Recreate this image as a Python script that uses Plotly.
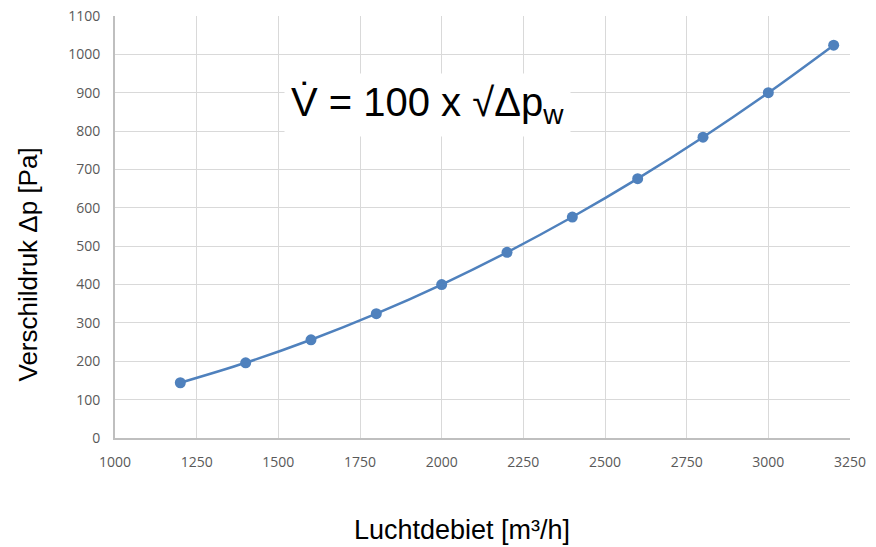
import plotly.graph_objects as go

# data
debiet = [1200, 1400, 1600, 1800, 2000, 2200, 2400, 2600, 2800, 3000, 3200]
drukval = [144, 196, 256, 324, 400, 484, 576, 676, 784, 900, 1024]
formule = "V\u0307 = 100 x \u221a\u0394p<sub>w</sub>"
x_titel = "Luchtdebiet [m³/h]"
y_titel = "Verschildruk Δp [Pa]"

lijnkleur = "#4f81bd"
gridkleur = "#d9d9d9"
tekstfont = "Liberation Sans, Arial"
tickfont = dict(family="Open Sans, Segoe UI", size=14, color="#595959")

fig = go.Figure()
fig.add_trace(go.Scatter(
    x=debiet, y=drukval, mode="lines+markers",
    line=dict(color=lijnkleur, width=2.5, shape="spline"),
    marker=dict(color=lijnkleur, size=11),
    showlegend=False))

# formule in wit kader
fig.add_annotation(
    x=0.425, y=0.79, xref="paper", yref="paper",
    xanchor="center", yanchor="middle",
    text=formule, showarrow=False,
    font=dict(family=tekstfont, size=40, color="black"),
    bgcolor="white", borderpad=6)

# as-titels
fig.add_annotation(
    x=0.472, y=-0.218, xref="paper", yref="paper",
    xanchor="center", yanchor="middle", showarrow=False,
    text=x_titel, font=dict(family=tekstfont, size=27, color="black"))
fig.add_annotation(
    x=-0.119, y=0.41, xref="paper", yref="paper",
    xanchor="center", yanchor="middle", showarrow=False, textangle=-90,
    text=y_titel, font=dict(family=tekstfont, size=26, color="black"))

fig.update_xaxes(
    range=[1000, 3250], dtick=250, tick0=1000,
    showgrid=True, gridcolor=gridkleur, gridwidth=1,
    showline=True, linecolor="#bfbfbf", linewidth=2,
    ticks="", zeroline=False, ticklabelstandoff=10,
    tickfont=tickfont, automargin=False)
fig.update_yaxes(
    range=[0, 1100], dtick=100,
    showgrid=True, gridcolor=gridkleur, gridwidth=1,
    showline=True, linecolor="#bfbfbf", linewidth=2,
    ticks="", zeroline=False, ticklabelstandoff=10,
    tickfont=tickfont, automargin=False)

fig.update_layout(
    width=876, height=547,
    margin=dict(l=115, r=26, t=16, b=109),
    plot_bgcolor="white", paper_bgcolor="white")

fig.write_html("out.html", config={"displayModeBar": False},
               post_script="document.body.style.margin='0';")
